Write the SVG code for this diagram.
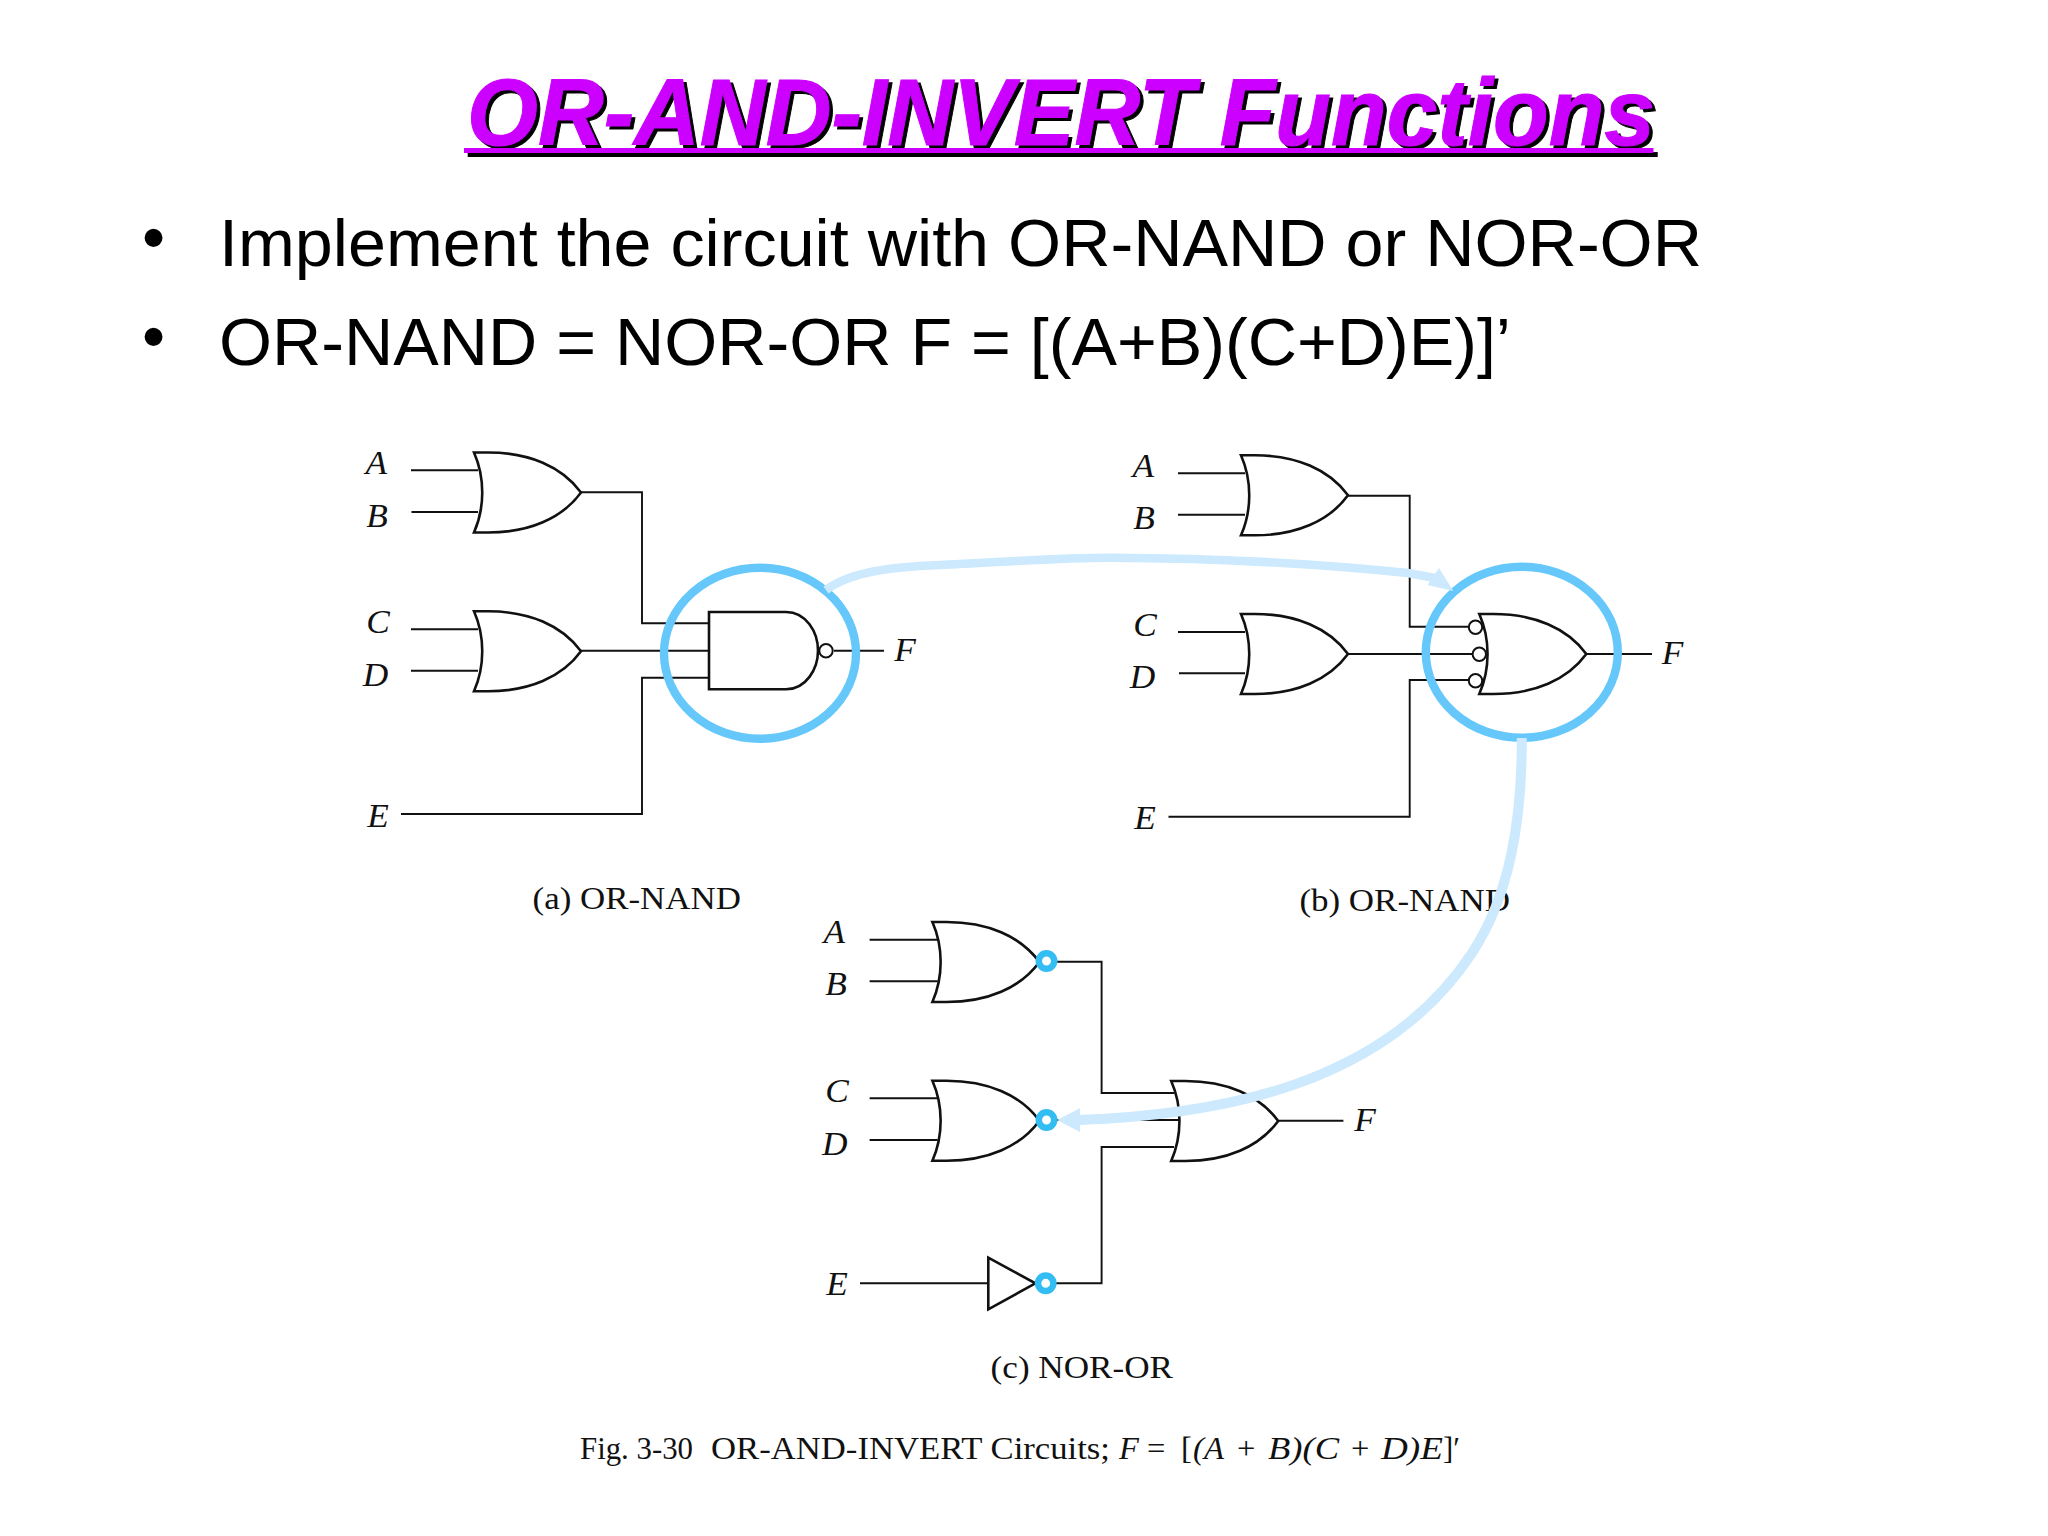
<svg xmlns="http://www.w3.org/2000/svg" width="2048" height="1536" viewBox="0 0 2048 1536">
<style>
.title{font:italic bold 94px "Liberation Sans",Arial,sans-serif;stroke-width:1}
.body{font:66px "Liberation Sans",Arial,sans-serif;fill:#000}
.cap{font:32.5px "Liberation Serif","Times New Roman",serif;fill:#111}
.it{font-style:italic}
.var{font:italic 33px "Liberation Serif","Times New Roman",serif;fill:#111;text-anchor:middle}
.gate{fill:none;stroke:#111;stroke-width:2.6;stroke-linejoin:miter}
.bub{fill:#fff;stroke:#111;stroke-width:2}
.wire{fill:none;stroke:#111;stroke-width:1.9}
.ell{fill:none;stroke:#66c8fa;stroke-width:8.4}
.ring{fill:#fff;stroke:#33bdf2;stroke-width:6.5}
.arr{fill:none;stroke:#cce9fd}
.head{fill:#cce9fd}
</style>
<defs>
<path id="or" d="M0,0 L14,0 C55,0 88,14 107,40 C88,66 55,80 14,80 L0,80 C11,55 11,25 0,0 Z"/>
<path id="nand" d="M0,0 H77 C97,0 109,20 109,38.7 C109,57 97,77.3 77,77.3 H0 Z"/>
</defs>
<rect width="2048" height="1536" fill="#fff"/>
<g id="title">
<rect x="467.7" y="152" width="1190" height="5" fill="#000"/>
<text class="title" x="470.5" y="148" fill="#000" stroke="#000" textLength="1188" lengthAdjust="spacingAndGlyphs">OR-AND-INVERT Functions</text>
<rect x="464" y="148" width="1189.5" height="5" fill="#cc00ff"/>
<text class="title" x="467" y="145" fill="#cc00ff" stroke="#cc00ff" textLength="1188" lengthAdjust="spacingAndGlyphs">OR-AND-INVERT Functions</text>
</g>
<g id="bullets">
<text class="body" x="142" y="260">•</text>
<text class="body" x="219" y="266" textLength="1483" lengthAdjust="spacingAndGlyphs">Implement the circuit with OR-NAND or NOR-OR</text>
<text class="body" x="142" y="358.7">•</text>
<text class="body" x="219" y="365" textLength="1292" lengthAdjust="spacingAndGlyphs">OR-NAND = NOR-OR F = [(A+B)(C+D)E)]’</text>
</g>
<g id="connectors">
<path class="wire" d="M411,470.3H478M411.5,512H478M411,629.3H478M411,670.7H478"/>
<path class="wire" d="M581,492.3H642V623.3H709M581,650.7H709M709,677.7H642V814H401M834,650.7H884"/>
<path class="wire" d="M1178,473.3H1245M1178,514.7H1245M1178,632H1245M1179,673.3H1245"/>
<path class="wire" d="M1348,495.7H1409.7V626.7H1469M1348,654H1472M1469,680H1409.7V816.7H1168.5M1587,654H1652"/>
<path class="wire" d="M869.6,939.7H937.8M869.6,981.3H937.8M869.6,1098.3H937.8M869.6,1140H937.8"/>
<path class="wire" d="M1055,961.7H1101.6V1093H1174.3M1055,1120H1179.6M1174,1147H1101.6V1283.3H1054M860,1283.3H988.3M1279,1120.7H1343.4"/>
</g>
<g id="a-or1"><use href="#or" class="gate" x="474" y="452.5"/></g>
<g id="a-or2"><use href="#or" class="gate" x="474" y="611.3"/></g>
<g id="a-nand"><use href="#nand" class="gate" x="709" y="612"/><circle class="bub" cx="826" cy="650.7" r="6.7"/></g>
<g id="b-or1"><use href="#or" class="gate" x="1241" y="455.3"/></g>
<g id="b-or2"><use href="#or" class="gate" x="1241" y="614"/></g>
<g id="b-or3"><use href="#or" class="gate" x="1479.3" y="614"/>
<circle class="bub" cx="1475.5" cy="627.3" r="6.7"/><circle class="bub" cx="1479.3" cy="654.3" r="6.7"/><circle class="bub" cx="1475.5" cy="680.7" r="6.7"/></g>
<g id="c-or1"><use href="#or" class="gate" x="932.4" y="922"/><circle class="ring" cx="1046.5" cy="961" r="7.7"/></g>
<g id="c-or2"><use href="#or" class="gate" x="932.4" y="1080.7"/><circle class="ring" cx="1046.5" cy="1120" r="7.7"/></g>
<g id="c-inv"><path class="gate" d="M988.3,1257.7V1309.3L1035.4,1283.3Z"/><circle class="ring" cx="1045.7" cy="1283.3" r="7.7"/></g>
<g id="c-or3"><use href="#or" class="gate" x="1171.2" y="1081"/></g>
<g id="labels">
<text class="var" transform="translate(376.4,474) scale(1.07,1)">A</text>
<text class="var" transform="translate(377,526.5) scale(1.07,1)">B</text>
<text class="var" transform="translate(378,633) scale(1.07,1)">C</text>
<text class="var" transform="translate(375.6,685.5) scale(1.07,1)">D</text>
<text class="var" transform="translate(378,826.5) scale(1.07,1)">E</text>
<text class="var" transform="translate(905,660.5) scale(1.07,1)">F</text>
<text class="var" transform="translate(1143.3,476.5) scale(1.07,1)">A</text>
<text class="var" transform="translate(1144,529) scale(1.07,1)">B</text>
<text class="var" transform="translate(1145,635.7) scale(1.07,1)">C</text>
<text class="var" transform="translate(1142.6,688.3) scale(1.07,1)">D</text>
<text class="var" transform="translate(1145,829.3) scale(1.07,1)">E</text>
<text class="var" transform="translate(1672.6,663.5) scale(1.07,1)">F</text>
<text class="var" transform="translate(834.4,943) scale(1.07,1)">A</text>
<text class="var" transform="translate(836,995.3) scale(1.07,1)">B</text>
<text class="var" transform="translate(837,1102) scale(1.07,1)">C</text>
<text class="var" transform="translate(834.8,1154.6) scale(1.07,1)">D</text>
<text class="var" transform="translate(837,1295.3) scale(1.07,1)">E</text>
<text class="var" transform="translate(1365,1130.5) scale(1.07,1)">F</text>
<text class="cap" x="532.5" y="909.3" textLength="208.5" lengthAdjust="spacingAndGlyphs">(a) OR-NAND</text>
<text class="cap" x="1299.4" y="911" textLength="210.6" lengthAdjust="spacingAndGlyphs">(b) OR-NAND</text>
<text class="cap" x="990.6" y="1378.3" textLength="182.4" lengthAdjust="spacingAndGlyphs">(c) NOR-OR</text>
</g>
<g id="caption">
<text class="cap" x="580" y="1459" textLength="113" lengthAdjust="spacingAndGlyphs">Fig. 3-30</text>
<text class="cap" x="711" y="1459" textLength="399" lengthAdjust="spacingAndGlyphs">OR-AND-INVERT Circuits;</text>
<text class="cap it" x="1119" y="1459">F</text>
<text class="cap" x="1147" y="1459">=</text>
<text class="cap" x="1181" y="1459">[</text>
<text class="cap it" x="1193" y="1459" textLength="31" lengthAdjust="spacingAndGlyphs">(A</text>
<text class="cap" x="1237" y="1459">+</text>
<text class="cap it" x="1268" y="1459" textLength="71" lengthAdjust="spacingAndGlyphs">B)(C</text>
<text class="cap" x="1351" y="1459">+</text>
<text class="cap it" x="1381" y="1459" textLength="62" lengthAdjust="spacingAndGlyphs">D)E</text>
<text class="cap" x="1443" y="1459" textLength="17" lengthAdjust="spacingAndGlyphs">]′</text>
</g>
<g id="highlights">
<ellipse class="ell" cx="760" cy="653.3" rx="96" ry="85.5"/>
<ellipse class="ell" cx="1521.8" cy="652.3" rx="96" ry="85.5"/>
<path class="arr" stroke-width="8.5" d="M826,590 C850,572 890,567 940,565 C990,563 1060,557.5 1110,557.7 C1200,558 1300,562 1408,573 L1435,578"/>
<polygon class="head" points="1453.3,591 1439,568 1427.6,585"/>
<path class="arr" stroke-width="10" d="M1521.8,738 C1522,820 1510,895 1472,953 C1385,1085 1220,1115 1078,1120"/>
<polygon class="head" points="1057,1120 1080,1108.3 1080,1132"/>
</g>
</svg>
